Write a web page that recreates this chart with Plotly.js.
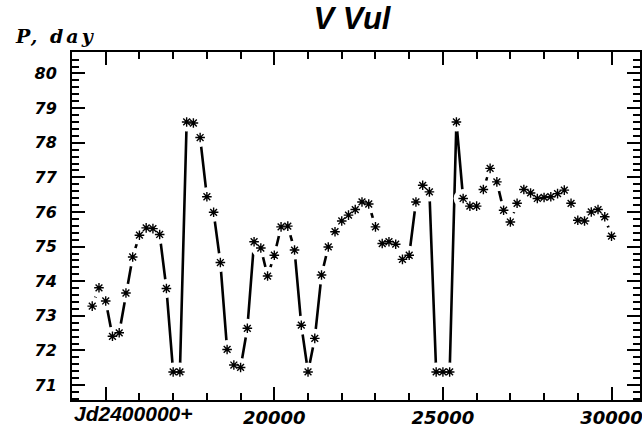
<!DOCTYPE html>
<html>
<head>
<meta charset="utf-8">
<script src="https://cdn.plot.ly/plotly-3.0.1.min.js"></script>
<style>html,body{margin:0;padding:0;background:#fff;}#chart{width:642px;height:431px;}#err{position:absolute;left:80px;top:60px;font:10px monospace;color:red;white-space:pre-wrap;width:540px;}</style>
</head>
<body>
<div id="chart"></div>
<div id="err"></div>
<script>
window.onerror = function(m, s, l, c, e) { document.getElementById('err').textContent += 'ERR ' + m + ' @' + l + '\n'; };
// Julian date (JD - 2400000)
const jd = [14600, 14800, 15000, 15200, 15400, 15600, 15800, 16000, 16200, 16400,
            16600, 16800, 17000, 17200, 17400, 17600, 17800, 18000, 18200, 18400,
            18600, 18800, 19000, 19200, 19400, 19600, 19800, 20000, 20200, 20400,
            20600, 20800, 21000, 21200, 21400, 21600, 21800, 22000, 22200, 22400,
            22600, 22800, 23000, 23200, 23400, 23600, 23800, 24000, 24200, 24400,
            24600, 24800, 25000, 25200, 25400, 25600, 25800, 26000, 26200, 26400,
            26600, 26800, 27000, 27200, 27400, 27600, 27800, 28000, 28200, 28400,
            28600, 28800, 29000, 29200, 29400, 29600, 29800, 30000];
// Period, days
const periodDays = [73.28, 73.81, 73.43, 72.41, 72.51, 73.66, 74.70, 75.33, 75.54, 75.52,
                    75.35, 73.79, 71.38, 71.38, 78.60, 78.57, 78.15, 76.44, 75.99, 74.54,
                    72.03, 71.58, 71.51, 72.64, 75.14, 74.96, 74.15, 74.75, 75.57, 75.59,
                    74.90, 72.73, 71.38, 72.35, 74.18, 74.99, 75.43, 75.74, 75.91, 76.07,
                    76.29, 76.23, 75.57, 75.09, 75.14, 75.07, 74.63, 74.75, 76.29, 76.77,
                    76.58, 71.38, 71.38, 71.38, 78.60, 76.39, 76.17, 76.17, 76.65, 77.26,
                    76.87, 76.05, 75.71, 76.25, 76.65, 76.55, 76.39, 76.42, 76.44, 76.53,
                    76.63, 76.25, 75.76, 75.74, 76.00, 76.07, 75.86, 75.30];
const xTickVals = [15000, 20000, 25000, 30000];
const xTickText = ['', '20000', '25000', '30000'];
const yTickVals = [71, 72, 73, 74, 75, 76, 77, 78, 79, 80];
const yTickText = ['71', '72', '73', '74', '75', '76', '77', '78', '79', '80'];
const xRange = [14000, 30845];
const yRange = [70.57, 80.62];
const titleText = 'V Vul';
const yLabelText = 'P, day';
const xLabelText = 'Jd2400000+';

const bi = s => s ? '<b><i>' + s + '</i></b>' : '';

const traces = [
  {x: jd, y: periodDays, type: 'scatter', mode: 'lines',
   line: {color: '#000', width: 2.6}, hoverinfo: 'skip', showlegend: false},
  {x: jd, y: periodDays, type: 'scatter', mode: 'markers',
   marker: {symbol: 'circle', size: 19, color: '#fff', line: {width: 0}},
   hoverinfo: 'skip', showlegend: false},
  {x: jd, y: periodDays, type: 'scatter', mode: 'markers',
   marker: {symbol: 'asterisk-open', size: 8, color: '#000', line: {color: '#000', width: 1.4}},
   showlegend: false}
];

const layout = {
  width: 642, height: 431,
  margin: {l: 72, r: 2, t: 52, b: 31, pad: 0},
  paper_bgcolor: '#fff', plot_bgcolor: '#fff',
  showlegend: false,
  title: {text: bi(titleText), x: 0.5 - 4/568, xref: 'paper', y: 1 - 18/431, yref: 'container', yanchor: 'middle',
          font: {family: 'Liberation Sans', size: 31, color: '#000'}},
  xaxis: {
    range: xRange, showgrid: false, zeroline: false,
    showline: true, linecolor: '#000', linewidth: 2, mirror: 'allticks',
    ticks: 'inside', ticklen: 13, tickwidth: 2, tickcolor: '#000',
    tickmode: 'array', tickvals: xTickVals, ticktext: xTickText.map(bi),
    tickfont: {family: 'DejaVu Sans', size: 18, color: '#000'}, ticklabeloverflow: 'allow',
    minor: {tickmode: 'linear', tick0: 14000, dtick: 1000, ticks: 'inside', ticklen: 7, tickwidth: 2, tickcolor: '#000', showgrid: false}
  },
  yaxis: {
    range: yRange, showgrid: false, zeroline: false,
    showline: true, linecolor: '#000', linewidth: 2, mirror: 'allticks',
    ticks: 'inside', ticklen: 13, tickwidth: 2, tickcolor: '#000',
    tickmode: 'array', tickvals: yTickVals, ticktext: yTickText.map(bi),
    tickfont: {family: 'DejaVu Sans', size: 16, color: '#000'}, ticklabelstandoff: 10,
    minor: {tickmode: 'linear', tick0: 70, dtick: 0.2, ticks: 'inside', ticklen: 7, tickwidth: 2, tickcolor: '#000', showgrid: false}
  },
  annotations: [
    {text: '<span style="letter-spacing:3px">' + bi(yLabelText) + '</span>', xref: 'paper', yref: 'paper', x: -59/568, y: 1 + 16/348,
     xanchor: 'left', yanchor: 'middle', showarrow: false,
     font: {family: 'DejaVu Serif', size: 19, color: '#000'}},
    {text: bi(xLabelText), xref: 'paper', yref: 'paper', x: 0, y: -13/348,
     xanchor: 'left', yanchor: 'middle', showarrow: false,
     font: {family: 'Liberation Sans', size: 21, color: '#000'}}
  ]
};

Plotly.newPlot('chart', traces, layout, {displayModeBar: false, staticPlot: true})
  .catch(function(e) { document.getElementById('err').textContent += 'PROMISE ' + e + '\n'; });
</script>
</body>
</html>
